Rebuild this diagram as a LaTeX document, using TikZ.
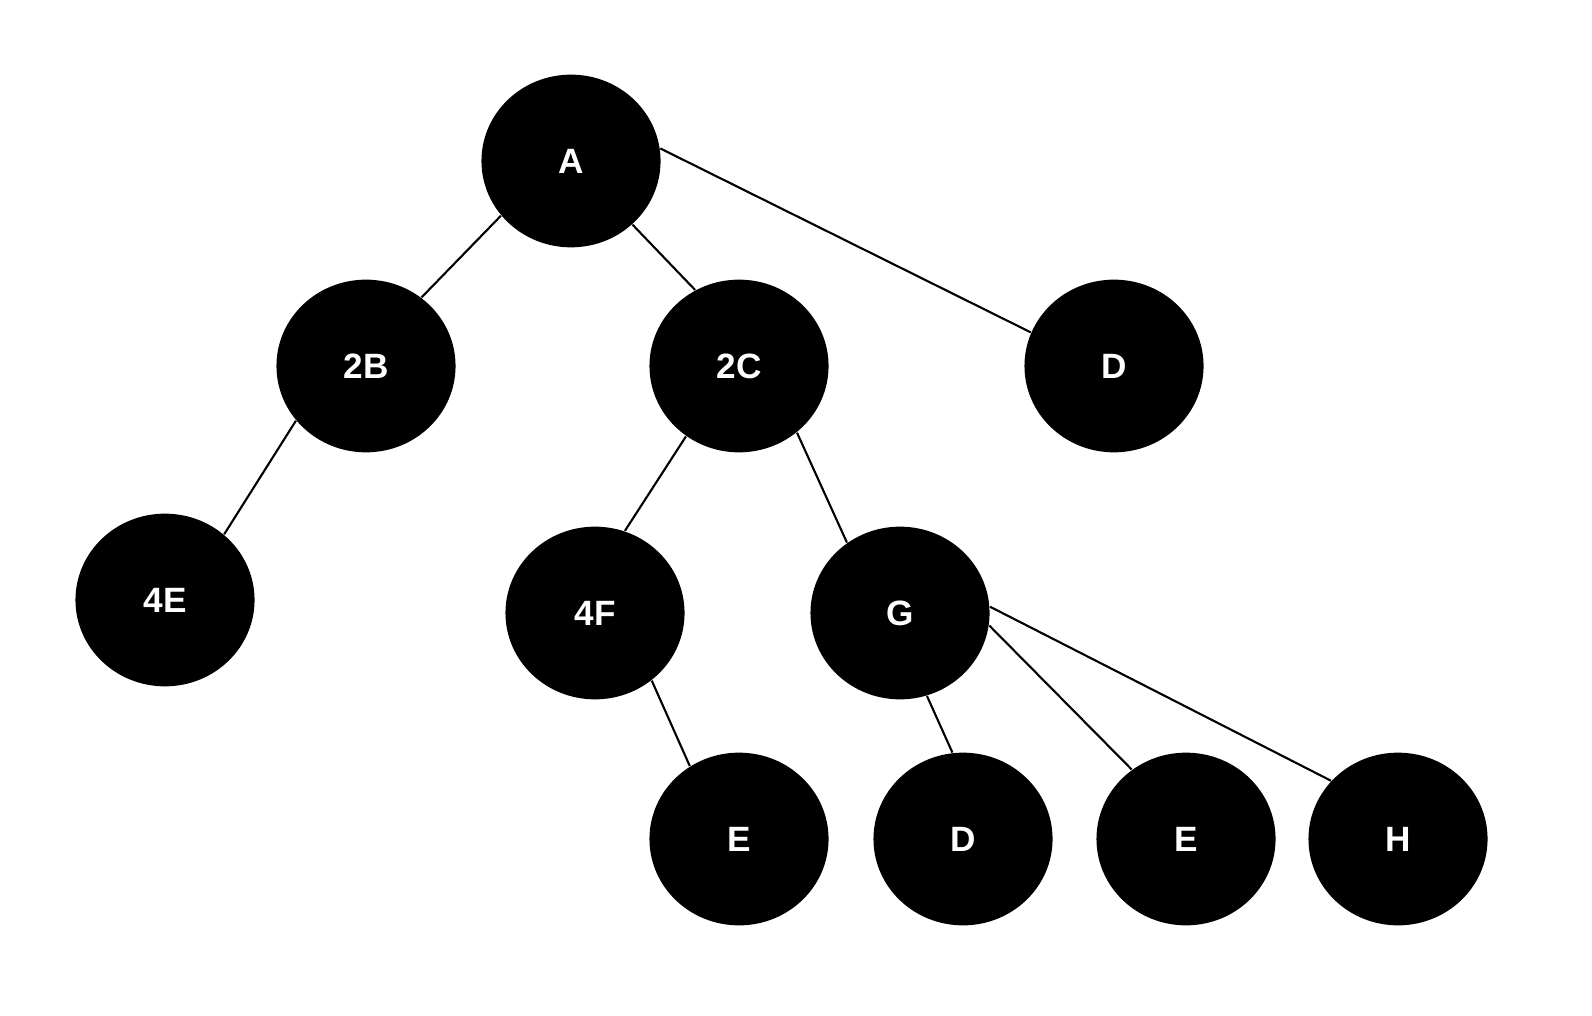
\documentclass[tikz,border=0pt]{standalone}
\usepackage{fontspec}
\setmainfont{Liberation Sans}
\tikzset{
  treenode/.style={ellipse,fill=black,draw=none,text=white,inner sep=0pt,
    minimum width=1.79cm,minimum height=1.726cm,font=\bfseries\fontsize{10}{12}\selectfont},
  treeedge/.style={line width=0.6pt}
}
\usetikzlibrary{shapes.geometric}
\begin{document}
\begin{tikzpicture}[x=0.01cm,y=-0.01cm]
        \useasboundingbox (0,0) rectangle (1592,1016);
        %% nodes
        \node[treenode] (a)  at (571,161) {A};
        \node[treenode] (b)  at (366,366) {2B};
        \node[treenode] (c)  at (739,366) {2C};
        \node[treenode] (d)  at (1114,366) {D};
        \node[treenode] (e)  at (165,600) {4E};
        \node[treenode] (f)  at (595,613) {4F};
        \node[treenode] (g)  at (900,613) {G};
        \node[treenode] (e1) at (739,839) {E};
        \node[treenode] (d1) at (963,839) {D};
        \node[treenode] (e2) at (1186,839) {E};
        \node[treenode] (h)  at (1398,839) {H};
        %% edges
        \draw[treeedge] (a.218) -- (b.51);
        \draw[treeedge] (a.314) -- (c.120);
        \draw[treeedge] (a.8) -- (d.158);
        \draw[treeedge] (b.218) -- (e.48);
        \draw[treeedge] (c.233) -- (f.70);
        \draw[treeedge] (c.311) -- (g.127);
        \draw[treeedge] (f.310) -- (e1.124);
        \draw[treeedge] (g.288) -- (d1.97);
        \draw[treeedge] (g.352) -- (e2.128);
        \draw[treeedge] (g.4) -- (h.139);
\end{tikzpicture}
\end{document}
